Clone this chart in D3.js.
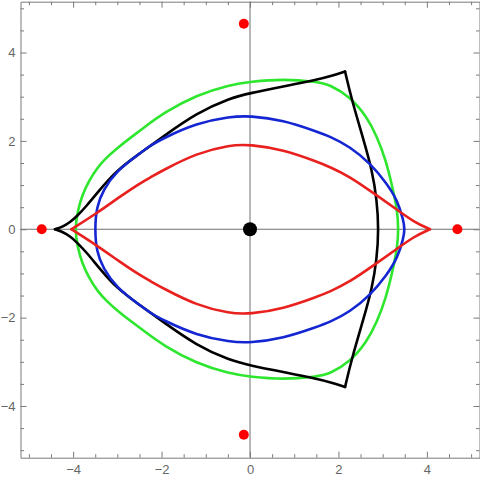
<!DOCTYPE html>
<html>
<head>
<meta charset="utf-8">
<script src="https://cdn.jsdelivr.net/npm/d3@7"></script>
<style>
  body { margin: 0; background: #fff; }
</style>
</head>
<body>
<div id="app"></div>
<script>
// tick values
const majorTicks = [-4, -2, 0, 2, 4]
const minorTicks = [-5, -4.5, -3.5, -3, -2.5, -1.5, -1, -0.5, 0.5, 1, 1.5, 2.5, 3, 3.5, 4.5, 5]

// green closed curve
const greenCurve = [
  [3.36, 0], [3.33, 0.44], [3.22, 0.96], [3.07, 1.57], [2.87, 2.10], [2.64, 2.55],
  [2.26, 3.0], [1.81, 3.27], [1.51, 3.34], [0.75, 3.40], [0, 3.34], [-0.45, 3.27],
  [-1.21, 3.04], [-1.96, 2.63], [-2.40, 2.30], [-2.72, 2.06], [-3.00, 1.84], [-3.24, 1.63],
  [-3.45, 1.40], [-3.64, 1.10], [-3.80, 0.76], [-3.90, 0.40], [-3.96, 0],
  [-3.90, -0.40], [-3.80, -0.76], [-3.64, -1.10], [-3.45, -1.40], [-3.24, -1.63],
  [-3.00, -1.84], [-2.72, -2.06], [-2.40, -2.30], [-1.96, -2.63], [-1.21, -3.04],
  [-0.45, -3.27], [0, -3.34], [0.75, -3.40], [1.51, -3.34], [1.81, -3.27], [2.26, -3.0],
  [2.64, -2.55], [2.87, -2.10], [3.07, -1.57], [3.22, -0.96], [3.33, -0.44]
]

// black curve, three pieces between corners
const blackRight = [
  [2.15, 3.57], [2.30, 2.93], [2.57, 2.02], [2.76, 1.34], [2.87, 0.66], [2.91, 0],
  [2.87, -0.66], [2.76, -1.34], [2.57, -2.02], [2.30, -2.93], [2.15, -3.57]
]
const blackTop = [
  [2.15, 3.57], [1.85, 3.47], [1.51, 3.38], [0.75, 3.23], [0, 3.08], [-0.45, 2.97],
  [-1.21, 2.63], [-1.96, 2.10], [-2.49, 1.72], [-3.02, 1.33], [-3.40, 0.89],
  [-3.70, 0.52], [-3.92, 0.29], [-4.07, 0.16], [-4.23, 0.06], [-4.41, 0]
]
const blackBottom = [
  [2.15, -3.57], [1.85, -3.47], [1.51, -3.38], [0.75, -3.23], [0, -3.08], [-0.45, -2.97],
  [-1.21, -2.63], [-1.96, -2.10], [-2.49, -1.72], [-3.02, -1.33], [-3.40, -0.89],
  [-3.70, -0.52], [-3.92, -0.29], [-4.07, -0.16], [-4.23, -0.06], [-4.41, 0]
]

// blue closed curve
const blueCurve = [
  [3.50, 0], [3.47, 0.21], [3.33, 0.66], [3.09, 1.04], [2.72, 1.49], [2.26, 1.87],
  [1.81, 2.10], [1.51, 2.21], [0.75, 2.47], [0, 2.57], [-0.45, 2.55], [-1.21, 2.40],
  [-1.96, 2.06], [-2.26, 1.89], [-2.49, 1.72], [-3.02, 1.32], [-3.32, 0.89],
  [-3.47, 0.51], [-3.51, 0],
  [-3.47, -0.51], [-3.32, -0.89], [-3.02, -1.32], [-2.49, -1.72], [-2.26, -1.89],
  [-1.96, -2.06], [-1.21, -2.40], [-0.45, -2.55], [0, -2.57], [0.75, -2.47], [1.51, -2.21],
  [1.81, -2.10], [2.26, -1.87], [2.72, -1.49], [3.09, -1.04], [3.33, -0.66], [3.47, -0.21]
]

// red curve, two pieces between the cusps
const redTop = [
  [4.07, 0], [3.70, 0.17], [3.33, 0.44], [2.79, 0.82], [2.26, 1.19], [1.81, 1.41],
  [1.51, 1.53], [0.75, 1.80], [0, 1.92], [-0.45, 1.91], [-1.21, 1.72], [-1.96, 1.34],
  [-2.26, 1.17], [-2.49, 1.04], [-2.94, 0.74], [-3.47, 0.36], [-4.04, 0]
]
const redBottom = [
  [4.07, 0], [3.70, -0.17], [3.33, -0.44], [2.79, -0.82], [2.26, -1.19], [1.81, -1.41],
  [1.51, -1.53], [0.75, -1.80], [0, -1.92], [-0.45, -1.91], [-1.21, -1.72], [-1.96, -1.34],
  [-2.26, -1.17], [-2.49, -1.04], [-2.94, -0.74], [-3.47, -0.36], [-4.04, 0]
]

// points
const redPoints = [[-4.71, 0], [4.69, 0], [-0.14, 4.65], [-0.14, -4.65]]
const centerPoint = [[0, 0]]

const width = 480
const height = 477

const svg = d3.select('#app')
              .append('svg')
                .attr('width', width)
                .attr('height', height)

const xScale = d3.scaleLinear()
                  .domain([-5.19, 5.19])
                  .range([20.5, 479.5])
const yScale = d3.scaleLinear()
                  .domain([-5.17, 5.15])
                  .range([457.7, 1.7])

const frameColor = '#7a7a7a'
const labelColor = '#666'
const fontFamily = '"Liberation Sans", Arial, sans-serif'

const [x0, x1] = xScale.range()
const [y0, y1] = yScale.range()

// axes through the origin
svg.append('line')
  .attr('x1', x0).attr('x2', x1)
  .attr('y1', yScale(0)).attr('y2', yScale(0))
  .attr('stroke', '#707070')
svg.append('line')
  .attr('x1', xScale(0)).attr('x2', xScale(0))
  .attr('y1', y0).attr('y2', y1)
  .attr('stroke', '#707070')

// frame: ticks point inwards on all four sides
const fmt = d => d < 0 ? '\u2212' + Math.abs(d) : String(d)

function frameSide(gen, transform, labels, padding) {
  const g = svg.append('g')
    .attr('transform', transform)
    .call(gen.tickValues(majorTicks).tickSize(-6).tickSizeOuter(0)
      .tickPadding(padding).tickFormat(labels ? fmt : () => ''))
  g.select('.domain').attr('stroke', frameColor)
  g.selectAll('.tick line').attr('stroke', frameColor)
  g.selectAll('.tick text')
    .attr('fill', labelColor)
    .attr('font-size', 13)
    .attr('font-family', fontFamily)

  const m = svg.append('g')
    .attr('transform', transform)
    .call(gen.tickValues(minorTicks).tickSize(-3.5).tickFormat(() => ''))
  m.select('.domain').remove()
  m.selectAll('.tick line').attr('stroke', frameColor)
}

frameSide(d3.axisBottom(xScale), `translate(0, ${y0})`, true, 7)
frameSide(d3.axisTop(xScale), `translate(0, ${y1})`, false, 3)
frameSide(d3.axisLeft(yScale), `translate(${x0}, 0)`, true, 5)
frameSide(d3.axisRight(yScale), `translate(${x1}, 0)`, false, 3)

// curves
const closedLine = d3.line()
  .x(d => xScale(d[0])).y(d => yScale(d[1]))
  .curve(d3.curveBasisClosed)
const openLine = d3.line()
  .x(d => xScale(d[0])).y(d => yScale(d[1]))
  .curve(d3.curveBasis)

const curves = [
  { data: greenCurve, color: '#2ee62e', closed: true },
  { data: blackRight, color: '#000', closed: false },
  { data: blackTop, color: '#000', closed: false },
  { data: blackBottom, color: '#000', closed: false },
  { data: blueCurve, color: '#1426d2', closed: true },
  { data: redTop, color: '#e8201e', closed: false },
  { data: redBottom, color: '#e8201e', closed: false }
]

svg.append('g').selectAll('path')
  .data(curves)
  .join('path')
    .attr('d', d => d.closed ? closedLine(d.data) : openLine(d.data))
    .attr('fill', 'none')
    .attr('stroke', d => d.color)
    .attr('stroke-width', 2.6)
    .attr('stroke-linejoin', 'round')
    .attr('stroke-linecap', 'round')

// points
svg.append('g').selectAll('circle')
  .data(redPoints)
  .join('circle')
    .attr('cx', d => xScale(d[0]))
    .attr('cy', d => yScale(d[1]))
    .attr('r', 5)
    .attr('fill', '#f00')

svg.append('g').selectAll('circle')
  .data(centerPoint)
  .join('circle')
    .attr('cx', d => xScale(d[0]))
    .attr('cy', d => yScale(d[1]))
    .attr('r', 7)
    .attr('fill', '#000')
</script>
</body>
</html>
